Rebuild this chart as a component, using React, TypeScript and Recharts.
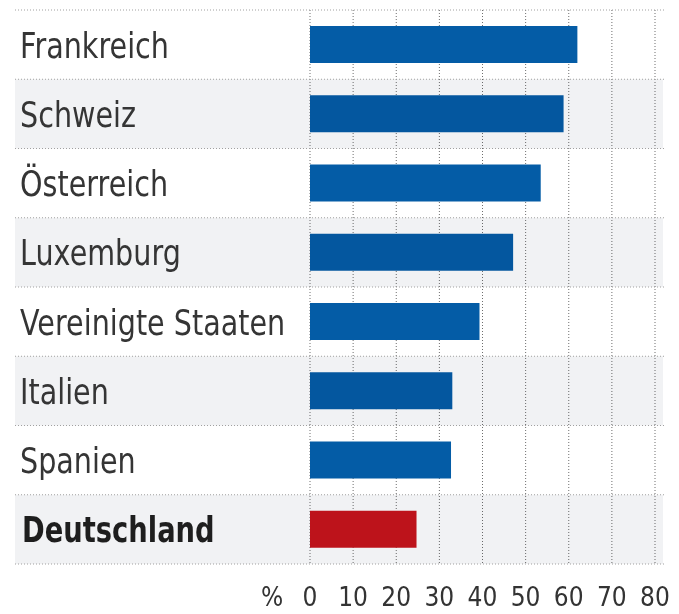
import React from 'react';
import { BarChart, Bar, XAxis, YAxis, CartesianGrid, Cell } from 'recharts';

const countries = [
  'Frankreich',
  'Schweiz',
  'Österreich',
  'Luxemburg',
  'Vereinigte Staaten',
  'Italien',
  'Spanien',
  'Deutschland',
];
const shares = [62, 58.8, 53.5, 47.1, 39.3, 33, 32.7, 24.7];
const xTicks = [0, 10, 20, 30, 40, 50, 60, 70, 80];
const highlight = 'Deutschland';

const W = 679;
const H = 614;
const TOP = 10;
const BOTTOM = 564;
const ROW_H = (BOTTOM - TOP) / countries.length;
const FONT = '"DejaVu Sans", sans-serif';

const data = countries.map((c, i) => ({ name: c, value: shares[i] }));

// row label + alternating band + dotted separator, drawn per category tick
const RowTick = ({ y, payload, index }: any) => {
  const top = y - ROW_H / 2;
  const isLast = index === countries.length - 1;
  const bold = payload.value === highlight;
  return (
    <g>
      {index % 2 === 1 && (
        <rect x={15} y={top} width={648} height={ROW_H} fill="#f1f2f4" style={{ mixBlendMode: 'multiply' }} />
      )}
      <line x1={15} x2={665} y1={top} y2={top} stroke="#a0a0a0" strokeDasharray="1 2" />
      {isLast && (
        <line x1={15} x2={665} y1={top + ROW_H} y2={top + ROW_H} stroke="#a0a0a0" strokeDasharray="1 2" />
      )}
      <text
        transform={`translate(${bold ? 22 : 20} ${y + 13}) scale(${bold ? 0.76 : 0.795} 1)`}
        fontSize={36}
        fontFamily={FONT}
        fontWeight={bold ? 'bold' : 'normal'}
        fill={bold ? '#1e1e1e' : '#353535'}
      >
        {payload.value}
      </text>
    </g>
  );
};

const PercentTick = ({ x, y, payload, index }: any) => (
  <g>
    {index === 0 && (
      <text transform={`translate(${x - 38} ${y + 34}) scale(0.9 1)`} textAnchor="middle" fontSize={26} fontFamily={FONT} fill="#333">
        %
      </text>
    )}
    <text transform={`translate(${x} ${y + 34}) scale(0.9 1)`} textAnchor="middle" fontSize={26} fontFamily={FONT} fill="#333">
      {payload.value}
    </text>
  </g>
);

export default function App() {
  return (
    <div style={{ position: 'absolute', left: 0, top: 0, width: W, height: H, background: '#fff' }}>
      <BarChart
        width={W}
        height={H}
        data={data}
        layout="vertical"
        margin={{ top: TOP, right: W - 655, left: 0, bottom: 0 }}
        barSize={37}
      >
        <CartesianGrid vertical horizontal={false} stroke="#6e6e6e" strokeDasharray="1 2" />
        <Bar dataKey="value" isAnimationActive={false}>
          {data.map((d) => (
            <Cell key={d.name} fill={d.name === highlight ? '#c8141c' : '#045ca6'} />
          ))}
        </Bar>
        <YAxis
          type="category"
          dataKey="name"
          width={310}
          axisLine={false}
          tickLine={false}
          tick={<RowTick />}
          interval={0}
        />
        <XAxis
          type="number"
          domain={[0, 80]}
          ticks={xTicks}
          height={50}
          axisLine={false}
          tickLine={false}
          tick={<PercentTick />}
          interval={0}
        />
      </BarChart>
    </div>
  );
}
